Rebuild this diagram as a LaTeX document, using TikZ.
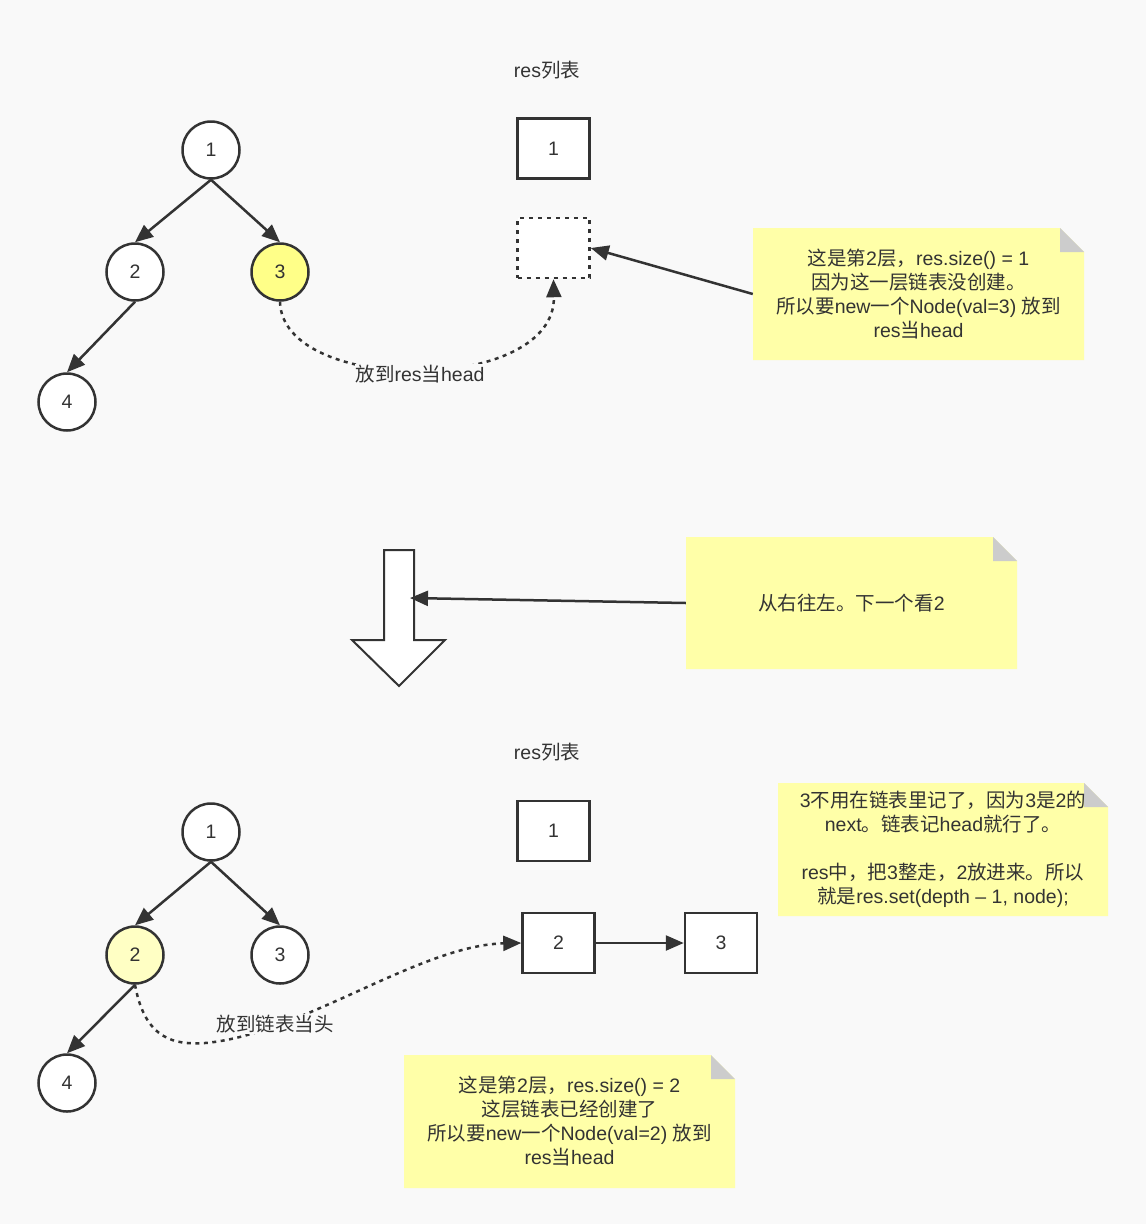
\documentclass[tikz,border=0pt]{standalone}
\usepackage{fontspec}
\setmainfont{Liberation Sans}
\newfontfamily\latinfont{Liberation Sans}
\newfontfamily\cjkfont{Noto Sans CJK SC}
\usetikzlibrary{arrows.meta,calc}
% automatic switch to the CJK face for ideographs and CJK punctuation
\makeatletter
\ifdefined\newXeTeXintercharclass
  \newXeTeXintercharclass\cjkcls
\else
  \chardef\cjkcls=7
\fi
\def\setcjkrange#1#2{%
  \count@=#1
  \loop
    \XeTeXcharclass\count@=\cjkcls
  \ifnum\count@<#2 \advance\count@ 1 \repeat}
\setcjkrange{"3000}{"303F}
\setcjkrange{"4E00}{"9FFF}
\setcjkrange{"FF00}{"FFEF}
\makeatother
\XeTeXinterchartokenstate=1
\XeTeXinterchartoks 0 \cjkcls = {\cjkfont}
\XeTeXinterchartoks 4095 \cjkcls = {\cjkfont}
\XeTeXinterchartoks \cjkcls 0 = {\latinfont}
\XeTeXinterchartoks \cjkcls 4095 = {\latinfont}

\definecolor{bg}{HTML}{F9F9F9}
\definecolor{ink}{HTML}{333333}
\definecolor{notey}{HTML}{FFFFA8}
\definecolor{fold}{HTML}{CCCCCC}
\definecolor{hiA}{HTML}{FFFF88}
\definecolor{hiB}{HTML}{FFFFC4}
\tikzset{
  txt/.style={font=\fontsize{19.5}{24}\selectfont, text=ink},
  tnode/.style={txt, circle, draw=ink, line width=2.5pt, fill=white, minimum size=57pt, inner sep=0pt},
  box/.style={txt, rectangle, draw=ink, line width=2.5pt, fill=white, minimum width=72pt, minimum height=60pt, inner sep=0pt},
  dbox/.style={box, dash pattern=on 4pt off 5pt},
  edge/.style={draw=ink, line width=2.5pt, -{Triangle[length=18pt,width=15pt]}},
  dotted link/.style={edge, dash pattern=on 4pt off 4.5pt},
  note/.style={txt, align=center, inner sep=0pt, minimum width=331pt, minimum height=132pt,
    path picture={
      \fill[notey] (path picture bounding box.south west) -- (path picture bounding box.north west)
        -- ([xshift=-24pt]path picture bounding box.north east)
        -- ([yshift=-24pt]path picture bounding box.north east)
        -- (path picture bounding box.south east) -- cycle;
      \fill[fold] ([xshift=-24pt]path picture bounding box.north east)
        -- ([xshift=-24pt,yshift=-24pt]path picture bounding box.north east)
        -- ([yshift=-24pt]path picture bounding box.north east) -- cycle;
    }},
  lab/.style={txt, fill=bg, inner sep=1pt}
}
\begin{document}
\begin{tikzpicture}[x=1pt,y=-1pt]
\useasboundingbox (0,0) rectangle (1146,1224);
\fill[bg] (0,0) rectangle (1146,1224);

% ---------- upper state ----------
\node[txt] (title1) at (547,70) {res列表};
\node[tnode] (a1) at (211,150) {1};
\node[tnode] (a2) at (135,272) {2};
\node[tnode, fill=hiA] (a3) at (280,272) {3};
\node[tnode] (a4) at (67,402) {4};
\draw[edge] (a1.south) -- (a2.north);
\draw[edge] (a1.south) -- (a3.north);
\draw[edge] (a2.south) -- (a4.north);

\node[box] (r1) at (553.5,148.5) {1};
\node[dbox] (r2) at (553.5,248) {};

\node[note] (n1) at (918.5,294) {这是第2层，res.size() = 1\\因为这一层链表没创建。\\所以要new一个Node(val=3) 放到\\res当head};
\draw[edge] (n1.west) -- (r2.east);

\draw[dotted link] (a3.south) .. controls (282,395) and (556,395) .. (r2.south);
\node[lab] (l1) at (420,374) {放到res当head};

% ---------- transition arrow ----------
\fill[white, draw=ink, line width=2pt, line join=miter]
  (384,550) -- (414,550) -- (414,640) -- (445,640) -- (399,686) -- (352,640) -- (384,640) -- cycle;
\coordinate (shaft) at (410,598);
\node[note] (n2) at (851.5,603) {从右往左。下一个看2};
\draw[edge] (n2.west) -- (shaft);

% ---------- lower state ----------
\node[txt] (title2) at (547,752) {res列表};
\node[tnode] (b1) at (211,832) {1};
\node[tnode, fill=hiB] (b2) at (135,955) {2};
\node[tnode] (b3) at (280,955) {3};
\node[tnode] (b4) at (67,1083) {4};
\draw[edge] (b1.south) -- (b2.north);
\draw[edge] (b1.south) -- (b3.north);
\draw[edge] (b2.south) -- (b4.north);

\node[box] (s1) at (553.5,831) {1};
\node[box] (s2) at (558.5,943) {2};
\node[box] (s3) at (721,943) {3};
\draw[edge] (s2) -- (s3);

\node[note, minimum width=330pt, minimum height=133pt] (n3) at (943,849.5)
  {3不用在链表里记了，因为3是2的\\next。链表记head就行了。\\[24pt]res中，把3整走，2放进来。所以\\就是res.set(depth – 1, node);};
\node[note, minimum height=133pt] (n4) at (569.5,1121.5)
  {这是第2层，res.size() = 2\\这层链表已经创建了\\所以要new一个Node(val=2) 放到\\res当head};

\draw[dotted link] (b2.south) .. controls (145,1040) and (175,1045) .. (205,1043)
  .. controls (300,1035) and (420,945) .. (s2.west);
\node[lab] (l2) at (275,1024) {放到链表当头};
\end{tikzpicture}
\end{document}
